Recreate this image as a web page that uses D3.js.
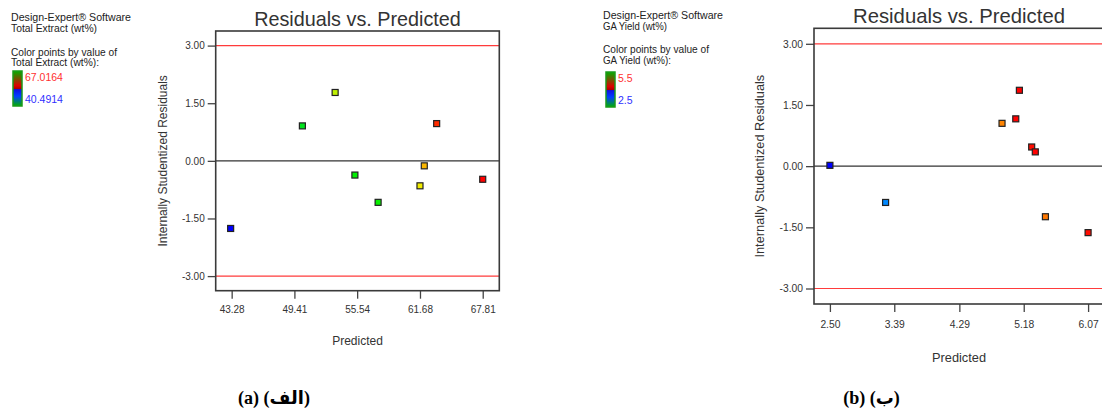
<!DOCTYPE html>
<html>
<head>
<meta charset="utf-8">
<script src="https://cdn.jsdelivr.net/npm/d3@7"></script>
<style>
  html, body { margin: 0; padding: 0; background: #fff; }
  svg { display: block; font-family: "Liberation Sans", Arial, sans-serif; }
</style>
</head>
<body>
<svg id="chart" width="1102" height="408"></svg>
<script>
// Residual axis ticks shared by both panels
const residualTicks = [-3, -1.5, 0, 1.5, 3];
const limitLines = [-3, 3];

// Panel (a): Total Extract (wt%)
const totalTicks = [43.28, 49.41, 55.54, 61.68, 67.81];
const totalPredicted = [43.18, 50.19, 53.39, 55.32, 57.59, 61.68, 62.10, 63.31, 67.81];
const totalResidual  = [-1.76, 0.91, 1.78, -0.37, -1.08, -0.65, -0.13, 0.97, -0.48];
const totalActual    = [40.49, 50.5, 55.3, 51.1, 51.3, 56.6, 59.6, 65.4, 67.02];
const totalRange     = [40.4914, 67.0164];
const totalLegend    = ["Design-Expert® Software", "Total Extract (wt%)", "Color points by value of", "Total Extract (wt%):"];

// Panel (b): GA Yield (wt%)
const gaTicks = [2.50, 3.39, 4.29, 5.18, 6.07];
const gaPredicted = [2.50, 3.27, 4.88, 5.07, 5.12, 5.29, 5.34, 5.48, 6.07];
const gaResidual  = [0.02, -0.89, 1.05, 1.16, 1.86, 0.47, 0.35, -1.24, -1.63];
const gaActual    = [2.5, 3.1, 4.95, 5.5, 5.5, 5.45, 5.5, 5.0, 5.45];
const gaRange     = [2.5, 5.5];
const gaLegend    = ["Design-Expert® Software", "GA Yield (wt%)", "Color points by value of", "GA Yield (wt%):"];

const svg = d3.select("#chart");

// Colour ramp used for the points: low = blue, high = red
const rampColors = ["#0000ff", "#0088ff", "#00f000", "#f0f000", "#ff9000", "#ff0000"];

// Legend bar gradient
const defs = svg.append("defs");
const grad = defs.append("linearGradient").attr("id", "legendGrad")
  .attr("x1", 0).attr("y1", 0).attr("x2", 0).attr("y2", 1);
[[0, "#00b000"], [0.42, "#e00000"], [0.5, "#b00000"], [0.53, "#1010e0"], [0.72, "#0040ff"], [1, "#00b000"]]
  .forEach(([o, c]) => grad.append("stop").attr("offset", o).attr("stop-color", c));

function drawPanel(p) {
  const g = svg.append("g");

  // Legend block
  p.legend.forEach((t, i) => {
    g.append("text").attr("x", p.legX).attr("y", p.legY[i])
      .attr("font-size", 10.5).attr("fill", "#222")
      .attr("textLength", p.legW[i]).attr("lengthAdjust", "spacingAndGlyphs")
      .text(t);
  });
  g.append("rect").attr("x", p.barX).attr("y", p.barY).attr("width", 9).attr("height", 35)
    .attr("fill", "url(#legendGrad)").attr("stroke", "#1a9a1a").attr("stroke-width", 1.5);
  g.append("text").attr("x", p.barX + 12).attr("y", p.barY + 10).attr("font-size", 10.5)
    .attr("fill", "#ff3030").text(p.hiLabel);
  g.append("text").attr("x", p.barX + 12).attr("y", p.barY + 32).attr("font-size", 10.5)
    .attr("fill", "#3030ff").text(p.loLabel);

  const x = d3.scaleLinear().domain(p.xDomain).range([p.left, p.right]);
  const y = d3.scaleLinear().domain([-3.38, 3.38]).range([p.bottom, p.top]);
  const color = d3.scaleLinear()
    .domain(d3.range(rampColors.length).map(i => p.cRange[0] + i * (p.cRange[1] - p.cRange[0]) / (rampColors.length - 1)))
    .range(rampColors).clamp(true);

  // Title
  g.append("text").attr("x", (p.left + p.right) / 2).attr("y", p.top - 5)
    .attr("text-anchor", "middle").attr("font-size", p.titleSize).attr("fill", "#333")
    .text("Residuals vs. Predicted");

  // Axes
  const yAxis = g.append("g").attr("transform", `translate(${p.left},0)`)
    .call(d3.axisLeft(y).tickValues(residualTicks).tickSize(8).tickPadding(3)
      .tickFormat(d => d.toFixed(2)));
  const xAxis = g.append("g").attr("transform", `translate(0,${p.bottom})`)
    .call(d3.axisBottom(x).tickValues(p.xTicks).tickSize(8).tickPadding(p.xPad)
      .tickFormat(d => d.toFixed(2)));
  [yAxis, xAxis].forEach(a => {
    a.attr("font-family", null);
    a.select(".domain").remove();
    a.selectAll("line").attr("stroke", "#444").attr("stroke-width", 1.3);
    a.selectAll("text").attr("font-size", p.tickSize).attr("fill", "#333");
  });

  // Reference lines
  g.selectAll(".limit").data(limitLines).join("line")
    .attr("x1", p.left).attr("x2", p.right).attr("y1", d => y(d)).attr("y2", d => y(d))
    .attr("stroke", "#ff3b3b").attr("stroke-width", 1.2);
  g.append("line").attr("x1", p.left).attr("x2", p.right).attr("y1", y(0)).attr("y2", y(0))
    .attr("stroke", "#333").attr("stroke-width", 1.2);

  // Frame
  g.append("rect").attr("x", p.left).attr("y", p.top)
    .attr("width", p.right - p.left).attr("height", p.bottom - p.top)
    .attr("fill", "none").attr("stroke", "#3a3a3a").attr("stroke-width", 1.6);

  // Points
  const pts = p.pred.map((v, i) => ({ pred: v, res: p.res[i], act: p.act[i] }));
  g.selectAll(".pt").data(pts).join("rect")
    .attr("x", d => x(d.pred) - 3).attr("y", d => y(d.res) - 3)
    .attr("width", 6).attr("height", 6)
    .attr("fill", d => color(d.act)).attr("stroke", "#222").attr("stroke-width", 1.2);

  // Axis titles
  g.append("text")
    .attr("transform", `translate(${p.yLabelX},${(p.top + p.bottom) / 2}) rotate(-90)`)
    .attr("text-anchor", "middle").attr("dy", "0.35em")
    .attr("font-size", p.labelSize).attr("fill", "#333")
    .text("Internally Studentized Residuals");
  g.append("text").attr("x", (p.left + p.right) / 2).attr("y", p.xLabelY)
    .attr("text-anchor", "middle").attr("dy", "0.35em")
    .attr("font-size", p.labelSize).attr("fill", "#333")
    .text("Predicted");

  // Caption
  g.append("text").attr("x", p.capX).attr("y", 404)
    .attr("text-anchor", "middle").attr("font-size", 18).attr("font-weight", "bold")
    .style("font-family", "'Liberation Serif', 'Times New Roman', 'DejaVu Sans', serif")
    .attr("fill", "#000").text(p.caption);
}

drawPanel({
  legend: totalLegend, legX: 11, legY: [21, 32, 55.5, 66], legW: [120, 86, 106, 88],
  barX: 13, barY: 71, hiLabel: d3.format(".4f")(totalRange[1]), loLabel: d3.format(".4f")(totalRange[0]),
  left: 215.7, right: 499.3, top: 31, bottom: 290.7,
  xDomain: [41.72, 69.43], xTicks: totalTicks, xPad: 7,
  pred: totalPredicted, res: totalResidual, act: totalActual, cRange: totalRange,
  titleSize: 19.8, tickSize: 10, labelSize: 12, yLabelX: 163, xLabelY: 341,
  capX: 274, caption: "(a) (الف)"
});

drawPanel({
  legend: gaLegend, legX: 603, legY: [18.5, 30, 53, 64], legW: [120, 64, 106, 68],
  barX: 606, barY: 72, hiLabel: gaRange[1].toFixed(1), loLabel: gaRange[0].toFixed(1),
  left: 814, right: 1104, top: 28.3, bottom: 304,
  xDomain: [2.28, 6.29], xTicks: gaTicks, xPad: 9,
  pred: gaPredicted, res: gaResidual, act: gaActual, cRange: gaRange,
  titleSize: 20.3, tickSize: 10.3, labelSize: 12.8, yLabelX: 760, xLabelY: 357.5,
  capX: 871.5, caption: "(b) (ب)"
});
</script>
</body>
</html>
